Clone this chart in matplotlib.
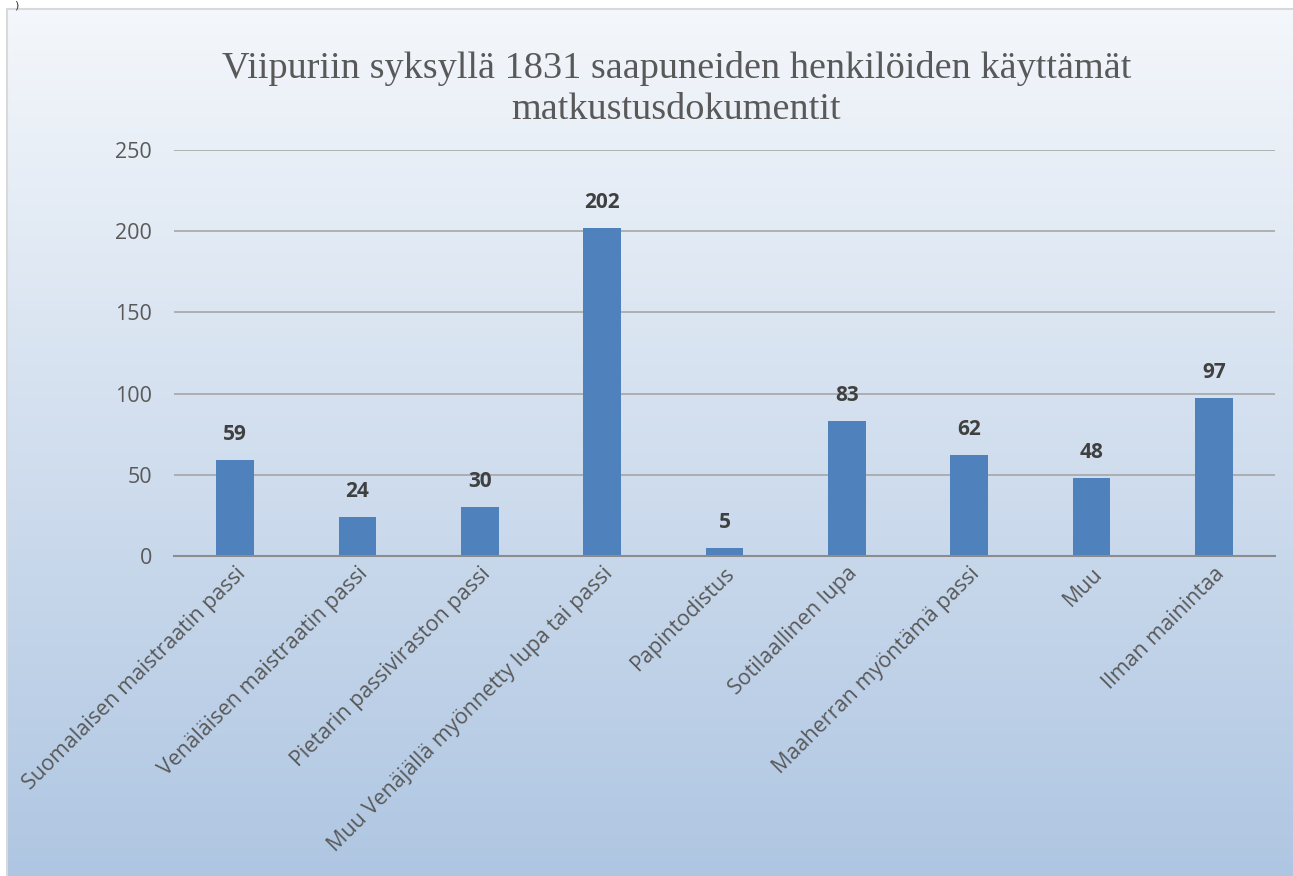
import matplotlib.pyplot as plt
import numpy as np
from matplotlib.patches import Rectangle

title = "Viipuriin syksyllä 1831 saapuneiden henkilöiden käyttämät\nmatkustusdokumentit"
categories = ["Suomalaisen maistraatin passi", "Venäläisen maistraatin passi",
              "Pietarin passiviraston passi", "Muu Venäjällä myönnetty lupa tai passi",
              "Papintodistus", "Sotilaallinen lupa", "Maaherran myöntämä passi",
              "Muu", "Ilman mainintaa"]
values = [59, 24, 30, 202, 5, 83, 62, 48, 97]

W, H = 1293, 876
fig = plt.figure(figsize=(W / 100, H / 100), dpi=100)

# gradient background inside the chart frame
x0, y0 = 7, 9
bg = fig.add_axes([x0 / W, 0, 1 - x0 / W, 1 - y0 / H])
top = np.array([0xf4, 0xf7, 0xfb]) / 255
bot = np.array([0xaf, 0xc6, 0xe2]) / 255
t = np.linspace(0, 1, 256)[:, None]
grad = top + (bot - top) * t
bg.imshow(grad[:, None, :].repeat(2, axis=1), aspect="auto", extent=[0, 1, 0, 1])
bg.set_axis_off()
fig.patches.append(Rectangle((x0 / W, -0.01), 1.1, 1 - y0 / H + 0.01, transform=fig.transFigure,
                             fill=False, edgecolor="#d9d9d9", linewidth=1.5))
fig.text(14 / W, 1 - 0.5 / H, ")", fontsize=8, color="#333333", va="top")

ax = fig.add_axes([174 / W, 1 - 556 / H, (1275 - 174) / W, (556 - 150) / H])
ax.patch.set_alpha(0)
x = np.arange(len(categories))
ax.bar(x, values, width=0.31, color="#4f81bd", zorder=3)
ax.set_xlim(-0.5, len(categories) - 0.5)
ax.set_ylim(0, 250)
ax.set_yticks(range(0, 251, 50))
ax.yaxis.grid(True, color="#a6a6a6", linewidth=1.2, zorder=0)
for s in ["top", "right", "left"]:
    ax.spines[s].set_visible(False)
ax.spines["bottom"].set_color("#8c8c8c")
ax.spines["bottom"].set_linewidth(1.5)
ax.spines["bottom"].set_zorder(4)
ax.tick_params(axis="y", length=0, pad=16, labelsize=15.5, labelcolor="#595959")
ax.tick_params(axis="x", length=0, pad=5)
ax.set_xticks(x)
ax.set_xticklabels(categories, rotation=45, ha="right", rotation_mode="anchor",
                   fontsize=15.5, color="#595959")
for lbl in ax.get_yticklabels() + ax.get_xticklabels():
    lbl.set_family("Open Sans")

for xi, v in zip(x, values):
    ax.annotate(str(v), (xi, v), xytext=(0, 11), textcoords="offset points",
                ha="center", va="bottom", fontsize=15, fontweight="bold",
                color="#404040", family="Open Sans")

fig.text(0.5 + 30 / W, 1 - 51 / H, title, ha="center", va="top", fontsize=27.5,
         color="#595959", family="Liberation Serif", linespacing=1.25)

fig.savefig("out.png", dpi=100)
